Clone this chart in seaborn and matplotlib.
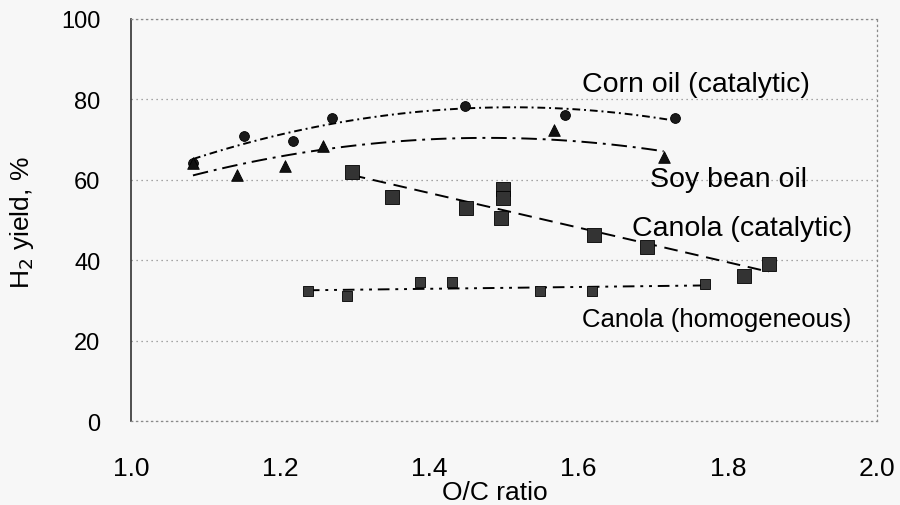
import numpy as np
import pandas as pd
import matplotlib
matplotlib.use("Agg")
import matplotlib.pyplot as plt
import seaborn as sns

# Measured hydrogen yields vs. O/C ratio
corn_x = [1.083, 1.151, 1.217, 1.269, 1.448, 1.582, 1.729]
corn_y = [64.2, 70.9, 69.7, 75.4, 78.4, 76.1, 75.4]

soy_x = [1.083, 1.142, 1.206, 1.257, 1.567, 1.714]
soy_y = [64.2, 61.2, 63.4, 68.4, 72.4, 65.7]

canola_cat_x = [1.296, 1.350, 1.449, 1.499, 1.499, 1.496, 1.621, 1.692, 1.822, 1.855]
canola_cat_y = [62.0, 55.7, 53.0, 57.7, 55.5, 50.5, 46.3, 43.3, 36.1, 39.0]

canola_hom_x = [1.237, 1.290, 1.387, 1.430, 1.548, 1.618, 1.769]
canola_hom_y = [32.3, 31.1, 34.6, 34.6, 32.3, 32.3, 34.1]

x_ticks = [1.0, 1.2, 1.4, 1.6, 1.8, 2.0]
x_tick_labels = ["1.0", "1.2", "1.4", "1.6", "1.8", "2.0"]
y_ticks = [0, 20, 40, 60, 80, 100]

series_labels = ["Corn oil (catalytic)", "Soy bean oil",
                 "Canola (catalytic)", "Canola (homogeneous)"]

sns.set_theme(style="white")
plt.rcParams["font.family"] = ["Liberation Sans", "DejaVu Sans"]
plt.rcParams["text.color"] = "black"

fig = plt.figure(figsize=(9.0, 5.06), dpi=100, facecolor="#f7f7f7")
ax = fig.add_axes([0.1456, 0.166, 0.8288, 0.7945])
ax.set_facecolor("#f7f7f7")

points = pd.concat([
    pd.DataFrame({"x": corn_x, "y": corn_y, "s": "corn"}),
    pd.DataFrame({"x": soy_x, "y": soy_y, "s": "soy"}),
    pd.DataFrame({"x": canola_cat_x, "y": canola_cat_y, "s": "cat"}),
    pd.DataFrame({"x": canola_hom_x, "y": canola_hom_y, "s": "hom"}),
])

# Polynomial trend lines fitted to each data set
def trend(xs, ys, deg, name):
    xs = np.asarray(xs)
    c = np.polyfit(xs, ys, deg)
    xx = np.linspace(xs.min(), xs.max(), 80)
    return pd.DataFrame({"x": xx, "y": np.polyval(c, xx), "s": name})

fits = [
    (trend(corn_x, corn_y, 2, "corn"), (0, (4, 2, 1, 2))),
    (trend(soy_x, soy_y, 2, "soy"), (0, (8, 3, 1.5, 3))),
    (trend(canola_cat_x, canola_cat_y, 1, "cat"), (0, (7, 4))),
    (trend(canola_hom_x, canola_hom_y, 1, "hom"), (0, (6, 3, 1.5, 3, 1.5, 3))),
]
for df, ls in fits:
    sns.lineplot(data=df, x="x", y="y", ax=ax, color="black", lw=1.4,
                 linestyle=ls, legend=False, sort=True)

marker_style = {
    "corn": dict(marker="o", s=50, color="#1a1a1a"),
    "soy": dict(marker="^", s=70, color="#111111"),
    "cat": dict(marker="s", s=100, color="#333333"),
    "hom": dict(marker="s", s=50, color="#3a3a3a"),
}
for name, st in marker_style.items():
    sns.scatterplot(data=points[points["s"] == name], x="x", y="y", ax=ax,
                    edgecolor="black", linewidth=0.6, legend=False, zorder=3, **st)

ax.set_xlim(1.0, 2.0)
ax.set_ylim(0, 100)
ax.set_xticks(x_ticks)
ax.set_xticklabels(x_tick_labels)
ax.set_yticks(y_ticks)
ax.tick_params(axis="x", labelsize=19, length=0, pad=25, colors="black")
ax.tick_params(axis="y", labelsize=17, length=0, pad=22, colors="black")

ax.grid(axis="y", color="#8a8a8a", linestyle=(0, (1, 3)), linewidth=0.9)
ax.grid(axis="x", visible=False)
for side in ["top", "right", "bottom"]:
    ax.spines[side].set_visible(True)
    ax.spines[side].set_color("#8a8a8a")
    ax.spines[side].set_linestyle((0, (1, 3)))
    ax.spines[side].set_linewidth(0.9)
ax.spines["left"].set_color("#333333")
ax.spines["left"].set_linewidth(1.2)

ax.set_xlabel("")
ax.set_ylabel("")
fig.text(495 / 900, 1 - 500 / 506, "O/C ratio", fontsize=19,
         ha="center", va="baseline")
fig.text(22 / 900, 1 - 223 / 506, "H$_2$ yield, %", fontsize=19,
         rotation=90, ha="center", va="center")

# Series annotations
ax.text(1.6046, 82.1, series_labels[0], fontsize=20.5, ha="left", va="baseline")
ax.text(1.6957, 58.5, series_labels[1], fontsize=20.5, ha="left", va="baseline")
ax.text(1.6716, 46.3, series_labels[2], fontsize=20.5, ha="left", va="baseline")
ax.text(1.6046, 23.6, series_labels[3], fontsize=18.5, ha="left", va="baseline")

fig.savefig("out.png", dpi=100, facecolor=fig.get_facecolor())
